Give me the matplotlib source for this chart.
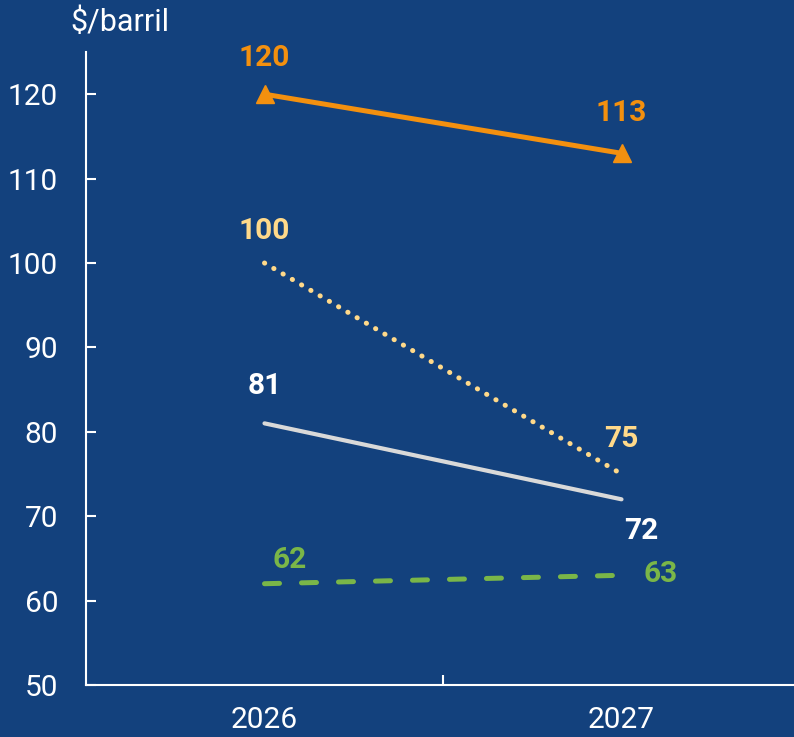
"""Oil price scenarios, 2026-2027 ($/barril)."""

import matplotlib

matplotlib.use("Agg")
import matplotlib.pyplot as plt

years = ["2026", "2027"]
high = [120, 113]
mid_high = [100, 75]
base = [81, 72]
low = [62, 63]

BG = "#13417D"
ORANGE = "#F3900F"
YELLOW = "#FFD98A"
GREY = "#D9D9D9"
GREEN = "#7AB648"

plt.rcParams["font.family"] = ["Roboto", "DejaVu Sans"]

fig = plt.figure(figsize=(7.94, 7.37), dpi=100, facecolor=BG)
ax = fig.add_axes([86 / 794, 1 - 685 / 737, 714 / 794, 633 / 737])
ax.set_facecolor(BG)

x = range(len(years))
ax.plot(x, high, color=ORANGE, lw=3.6, marker="^", ms=13, solid_capstyle="round")
ax.plot(x, mid_high, color=YELLOW, lw=3.6, linestyle=(0, (0.05, 2.1)), dash_capstyle="round")
ax.plot(x, base, color=GREY, lw=3, solid_capstyle="round")
ax.plot(x, low, color=GREEN, lw=3.6, linestyle=(0, (3.0, 4.4)), dash_capstyle="round")

# value labels: (values, color, offsets per point in points)
labels = [
    (high, ORANGE, [(0, 26), (0, 29)]),
    (mid_high, YELLOW, [(0, 23), (0, 25)]),
    (base, "white", [(0, 27), (14, -23)]),
    (low, GREEN, [(18, 17), (28, 1)]),
]
for vals, col, offs in labels:
    for i, (v, off) in enumerate(zip(vals, offs)):
        ax.annotate(str(v), (i, v), xytext=off, textcoords="offset points",
                    ha="center", va="center", color=col, fontsize=21.5, fontweight="bold")

ax.set_xlim(-0.5, 1.5)
ax.set_ylim(50, 125)
ax.set_yticks(range(50, 121, 10))
ax.set_xticks(list(x))
ax.set_xticklabels(years)
ax.set_xticks([0.5], minor=True)

for side in ["top", "right"]:
    ax.spines[side].set_visible(False)
for side in ["left", "bottom"]:
    ax.spines[side].set_color("white")
    ax.spines[side].set_linewidth(1.5)

ax.tick_params(axis="y", direction="in", length=7, width=1.5, color="white",
               labelcolor="white", labelsize=21.5, pad=20)
ax.tick_params(axis="x", which="major", length=0, labelcolor="white", labelsize=21.5, pad=15)
ax.tick_params(axis="x", which="minor", direction="in", length=7, width=1.5, color="white")

fig.text(70 / 794, 1 - 22 / 737, "$/barril", color="white", fontsize=22, ha="left", va="center")

fig.savefig("out.png", dpi=100, facecolor=BG)
